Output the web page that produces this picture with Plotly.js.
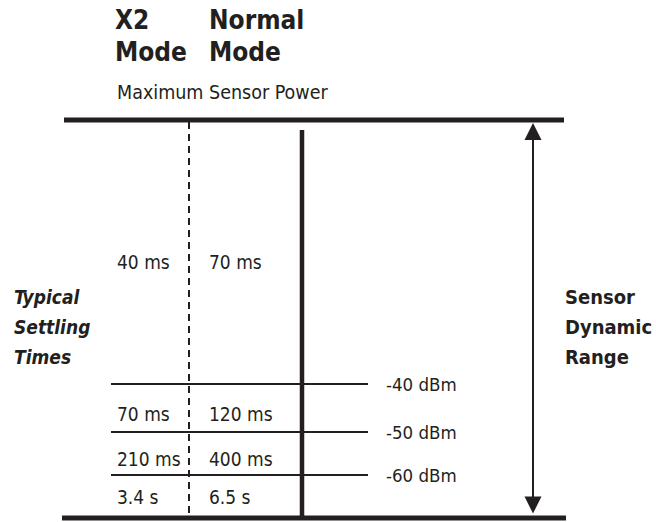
<!DOCTYPE html>
<html>
<head>
<meta charset="utf-8">
<script src="https://cdn.plot.ly/plotly-3.0.1.min.js"></script>
<style>html,body{margin:0;padding:0;background:#fff;}#chart{width:656px;height:522px;}</style>
</head>
<body>
<div id="chart"></div>
<script>
// ---- data ----
const modeLine1 = ['X2', 'Normal'];
const modeLine2 = ['Mode', 'Mode'];
const topLabel = 'Maximum Sensor Power';
const levels = ['-40 dBm', '-50 dBm', '-60 dBm'];
const x2Times = ['40 ms', '70 ms', '210 ms', '3.4 s'];
const normalTimes = ['70 ms', '120 ms', '400 ms', '6.5 s'];
const leftTitle = ['Typical', 'Settling', 'Times'];
const rightTitle = ['Sensor', 'Dynamic', 'Range'];

// ---- layout geometry (diagram units) ----
const geo = {
  topY: 120, bottomY: 518,
  levelY: [384, 432, 475],
  timeY: [262, 414, 459, 497],
  headY: [20, 52], subY: 92, titleY: [297, 327, 357],
  x2X: 115, normX: 207, dashX: 189, solidX: 302, solidTop: 130,
  levelX0: 111, levelX1: 368, labelX: 384,
  arrowX: 533, lineX0: 64, lineX1: 564, leftX: 12, rightX: 563
};
const FONT = '"Liberation Sans Narrow", "DejaVu Sans Condensed", "Arial Narrow", sans-serif';
const INK = '#231f20';

const shapes = [];
shapes.push({type:'line', x0:geo.lineX0, x1:geo.lineX1, y0:geo.topY, y1:geo.topY, line:{color:INK, width:5}});
shapes.push({type:'line', x0:geo.lineX0-2, x1:geo.lineX1+2, y0:geo.bottomY, y1:geo.bottomY, line:{color:INK, width:5}});
shapes.push({type:'line', x0:geo.dashX, x1:geo.dashX, y0:geo.topY+2, y1:geo.bottomY, line:{color:INK, width:2, dash:'7px,5px'}});
shapes.push({type:'line', x0:geo.solidX, x1:geo.solidX, y0:geo.solidTop, y1:geo.bottomY, line:{color:INK, width:4.5}});
levels.forEach((l, i) => {
  shapes.push({type:'line', x0:geo.levelX0, x1:geo.levelX1, y0:geo.levelY[i], y1:geo.levelY[i], line:{color:INK, width:2}});
});

const ann = [];
const txt = (x, y, text, size) => ({
  x, y, xref:'x', yref:'y', text, showarrow:false, xanchor:'left', yanchor:'middle',
  font:{family:FONT, size, color:INK}, align:'left'
});

[modeLine1, modeLine2].forEach((row, r) => {
  ann.push(txt(geo.x2X - 2, geo.headY[r], '<b>' + row[0] + '</b>', 26));
  ann.push(txt(geo.normX, geo.headY[r], '<b>' + row[1] + '</b>', 26));
});
ann.push(txt(geo.x2X, geo.subY, topLabel, 19.5));
levels.forEach((l, i) => ann.push(txt(geo.labelX, geo.levelY[i], l, 18.5)));
x2Times.forEach((t, i) => ann.push(txt(geo.x2X, geo.timeY[i], t, 19)));
normalTimes.forEach((t, i) => ann.push(txt(geo.normX, geo.timeY[i], t, 19)));
leftTitle.forEach((t, i) => ann.push(txt(geo.leftX, geo.titleY[i], '<b><i>' + t + '</i></b>', 19)));
rightTitle.forEach((t, i) => ann.push(txt(geo.rightX, geo.titleY[i], '<b>' + t + '</b>', 20)));
// double-headed arrow
ann.push({x:geo.arrowX, y:geo.topY+3, ax:geo.arrowX, ay:geo.bottomY-3, xref:'x', yref:'y', axref:'x', ayref:'y',
  showarrow:true, arrowhead:2, startarrowhead:2, arrowside:'end+start', arrowsize:1.7, startarrowsize:1.7, arrowwidth:2, arrowcolor:INK, text:''});

const layout = {
  width:656, height:522, margin:{l:0,r:0,t:0,b:0},
  paper_bgcolor:'#fff', plot_bgcolor:'#fff', showlegend:false,
  xaxis:{range:[0,656], visible:false, fixedrange:true},
  yaxis:{range:[522,0], visible:false, fixedrange:true},
  shapes, annotations:ann
};
Plotly.newPlot('chart', [{x:[], y:[], type:'scatter'}], layout, {displayModeBar:false, staticPlot:true});
</script>
</body>
</html>
